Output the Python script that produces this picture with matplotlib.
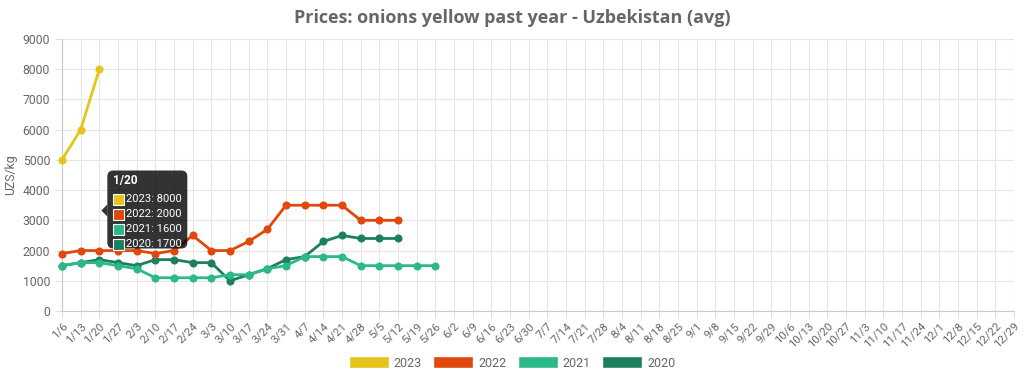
import matplotlib.pyplot as plt
import matplotlib.patches as mpatches
from matplotlib.transforms import Affine2D
import numpy as np

plt.rcParams['font.family'] = ['Roboto', 'DejaVu Sans']

weeks = ['1/6', '1/13', '1/20', '1/27', '2/3', '2/10', '2/17', '2/24', '3/3', '3/10',
         '3/17', '3/24', '3/31', '4/7', '4/14', '4/21', '4/28', '5/5', '5/12', '5/19',
         '5/26', '6/2', '6/9', '6/16', '6/23', '6/30', '7/7', '7/14', '7/21', '7/28',
         '8/4', '8/11', '8/18', '8/25', '9/1', '9/8', '9/15', '9/22', '9/29', '10/6',
         '10/13', '10/20', '10/27', '11/3', '11/10', '11/17', '11/24', '12/1', '12/8',
         '12/15', '12/22', '12/29']

years = ['2023', '2022', '2021', '2020']
prices_2023 = [5000, 6000, 8000]
prices_2022 = [1900, 2000, 2000, 2000, 2000, 1900, 2000, 2500, 2000, 2000,
               2300, 2700, 3500, 3500, 3500, 3500, 3000, 3000, 3000]
prices_2021 = [1500, 1600, 1600, 1500, 1400, 1100, 1100, 1100, 1100, 1200,
               1200, 1400, 1500, 1800, 1800, 1800, 1500, 1500, 1500, 1500, 1500]
prices_2020 = [1500, 1600, 1700, 1600, 1500, 1700, 1700, 1600, 1600, 1000,
               1200, 1400, 1700, 1800, 2300, 2500, 2400, 2400, 2400]
colors = ['#e6c419', '#e2470b', '#2cb98a', '#1c8060']
hover = 2  # tooltip shown for week 1/20

series = [prices_2023, prices_2022, prices_2021, prices_2020]

fig = plt.figure(figsize=(10.24, 3.79), dpi=100)
ax = fig.add_axes([62 / 1024, 1 - 311 / 379, (1014 - 62) / 1024, (311 - 39) / 379])

# first dataset drawn on top
for i in reversed(range(len(series))):
    vals = series[i]
    ax.plot(range(len(vals)), vals, color=colors[i], lw=2.0, marker='o', ms=4.8,
            zorder=3 + (len(series) - i), clip_on=False)

ax.set_xlim(0, len(weeks) - 1)
ax.set_ylim(0, 9000)
ax.set_xticks(range(len(weeks)))
ax.set_xticklabels(weeks, rotation=45, ha='right', rotation_mode='anchor')
ax.set_yticks(range(0, 9001, 1000))
ax.tick_params(axis='both', colors='#e0e0e0', labelcolor='#666666', length=5, labelsize=8.8)
ax.tick_params(axis='x', labelsize=8.2, pad=2)
ax.grid(True, color='#e6e6e6', lw=0.8)
ax.set_axisbelow(True)
for s in ['top', 'right']:
    ax.spines[s].set_visible(False)
for s in ['left', 'bottom']:
    ax.spines[s].set_color('#c8c8c8')
ax.set_ylabel('UZS/kg', color='#666666', fontsize=8.8, labelpad=4)

fig.text(0.5, 1 - 18 / 379, 'Prices: onions yellow past year - Uzbekistan (avg)',
         ha='center', va='center', fontsize=13, fontweight='bold', color='#666666',
         family=['Open Sans', 'DejaVu Sans'])

# legend
handles = [mpatches.Patch(facecolor=c, edgecolor='white', label=y) for y, c in zip(years, colors)]
fig.legend(handles=handles, loc='center', bbox_to_anchor=(0.5, 1 - 363 / 379), ncol=4,
           frameon=False, fontsize=9, handlelength=3.2, handleheight=1.1,
           handletextpad=0.4, columnspacing=0.9, labelcolor='#666666')

# tooltip
hv = [s[hover] for s in series if len(s) > hover]
px, py = ax.transData.transform((hover, np.mean(hv)))
tr = Affine2D().translate(px, py)
bx, bw, bh = 8, 80, 78
box = mpatches.FancyBboxPatch((bx, -bh / 2 + 1), bw, bh, boxstyle='round,pad=0,rounding_size=6',
                              transform=tr, facecolor='#000000', alpha=0.8, edgecolor='none',
                              zorder=20, clip_on=False)
fig.patches.append(box)
caret = mpatches.Polygon([[bx - 6, 0], [bx, 6], [bx, -6]], closed=True, transform=tr,
                         facecolor='#000000', alpha=0.8, edgecolor='none', zorder=20)
fig.patches.append(caret)
fig.text(px + bx + 6, py + 30, weeks[hover], transform=None, color='white', fontsize=8.5,
         fontweight='bold', va='center', ha='left', zorder=21)
for i, (y, c) in enumerate(zip(years, series)):
    ty = py + 12 - i * 15
    sq = mpatches.Rectangle((bx + 6, 12 - i * 15 - 6), 11, 11, transform=tr,
                            facecolor=colors[i], edgecolor='white', lw=0.8, zorder=21)
    fig.patches.append(sq)
    fig.text(px + bx + 19, ty - 0.5, '%s: %d' % (y, c[hover]), transform=None, color='white',
             fontsize=8.1, va='center', ha='left', zorder=21)

fig.savefig('out.png', dpi=100)
